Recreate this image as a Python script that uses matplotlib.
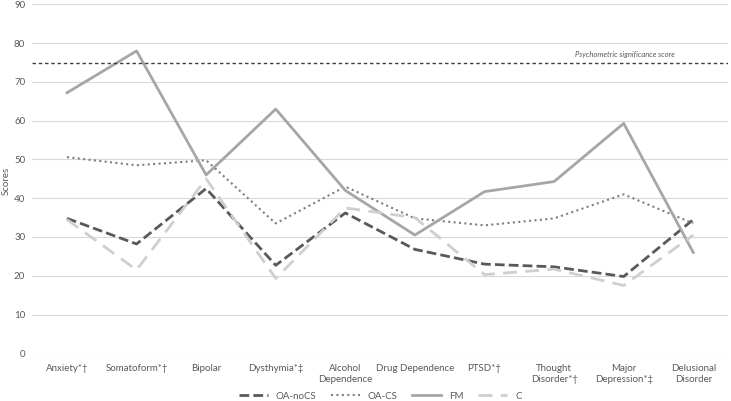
import matplotlib.pyplot as plt

categorias = ['Anxiety*†', 'Somatoform*†', 'Bipolar', 'Dysthymia*‡', 'Alcohol\nDependence',
              'Drug Dependence', 'PTSD*†', 'Thought\nDisorder*†', 'Major\nDepression*‡', 'Delusional\nDisorder']
oa_nocs = [34.8, 28.2, 42.5, 22.7, 36.2, 26.8, 23.0, 22.3, 19.8, 34.5]
oa_cs = [50.6, 48.5, 49.8, 33.5, 43.0, 34.8, 33.0, 34.8, 41.0, 33.5]
fm = [67.2, 78.0, 46.0, 63.0, 42.0, 30.5, 41.7, 44.3, 59.3, 26.0]
c = [34.5, 21.5, 45.0, 19.3, 37.5, 35.0, 20.3, 21.7, 17.5, 30.5]
umbral = 75

plt.rcParams['font.family'] = ['Lato', 'DejaVu Sans']

fig = plt.figure(figsize=(7.31, 4.01), dpi=100)
ax = fig.add_axes([0.044, 0.119, 0.952, 0.870])

x = list(range(len(categorias)))
ax.plot(x, oa_nocs, color='#595959', lw=2, dashes=(3.5, 1.5), label='OA-noCS')
ax.plot(x, oa_cs, color='#7f7f7f', lw=1.5, dashes=(1, 1.6), label='OA-CS')
ax.plot(x, fm, color='#a6a6a6', lw=2, label='FM')
ax.plot(x, c, color='#cfcfcf', lw=2, dashes=(5, 3), label='C')

ax.axhline(umbral, color='#404040', lw=1, dashes=(2.5, 2))
ax.text(7.3, umbral + 1.3, 'Psychometric significance score', fontsize=5.5,
        style='italic', color='#595959', ha='left', va='bottom')

ax.set_xlim(-0.5, len(categorias) - 0.5)
ax.set_ylim(0, 90)
ax.set_yticks(range(0, 91, 10))
ax.set_xticks(x)
ax.set_xticklabels(categorias, fontsize=7, color='#595959')
ax.tick_params(axis='y', labelsize=7, labelcolor='#595959', length=0, pad=5)
ax.tick_params(axis='x', length=0, pad=8)
ax.yaxis.grid(True, color='#d9d9d9', lw=0.8)
ax.set_axisbelow(True)
for s in ax.spines.values():
    s.set_visible(False)
fig.text(0.003, 0.548, 'Scores', fontsize=7, color='#595959', rotation=90, ha='left', va='center')

ax.legend(loc='upper center', bbox_to_anchor=(0.5, -0.085), ncol=4, frameon=False,
          fontsize=7, labelcolor='#595959', handlelength=3, columnspacing=1.5)

plt.savefig('out.png', dpi=100)
